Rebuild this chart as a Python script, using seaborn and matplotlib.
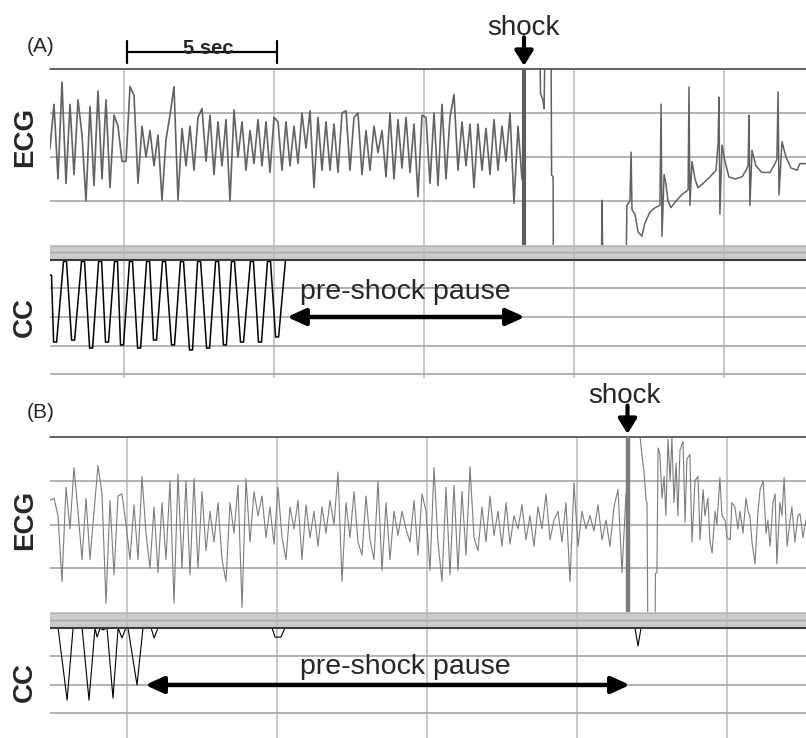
import numpy as np
import matplotlib
matplotlib.use("Agg")
import matplotlib.pyplot as plt
import seaborn as sns

sns.set_style("white")
plt.rcParams['font.family'] = ['Liberation Sans', 'DejaVu Sans']

# ---------------- data ----------------
FS = 7.5  # samples per second of the digitised pre-shock ECG strips

ecg_a_pre = [0.2, 1.2, -0.5, 1.7, -0.6, 1.2, -0.4, 1.3, 0.5, -1.0,
             1.15, -0.65, 1.5, -0.5, 1.3, -0.7, 0.95, 0.7, -0.1, -0.1,
             1.6, 1.4, -0.6, 0.7, 0.0, 0.6, -0.2, 0.5, -0.98, 0.4,
             0.95, 1.6, -0.98, 0.65, -0.2, 0.7, -0.3, 0.9, 1.1, -0.1,
             0.95, -0.4, 0.8, -0.2, 0.85, -1.0, 1.07, 0.0, 0.8, -0.3,
             0.6, -0.15, 0.85, -0.2, 0.8, -0.35, 0.9, 0.8, -0.3, 0.8,
             -0.2, 0.7, -0.15, 1.0, 0.2, 1.05, -0.7, 0.9, -0.3, 0.8,
             -0.3, 0.75, -0.35, 1.0, 1.05, -0.3, 0.9, 1.0, -0.4, 0.6,
             -0.3, 0.7, 0.1, 0.6, -0.45, 1.0, -0.5, 0.85, -0.25, 0.9,
             -0.35, 0.75, -0.9, 0.95, 0.9, -0.6, 1.0, -0.65, 1.2, -0.5,
             0.9, 1.42, -0.3, 0.8, -0.2, 0.75, -0.7, 0.75, -0.3, 0.65,
             -0.4, 0.85, -0.3, 0.7, -0.1, 1.0, -1.05, 0.7, -0.5]

ecg_a_post_t = [15.83, 16.33, 16.35, 16.40, 16.43, 16.47, 16.50, 16.70, 16.72, 16.77,
                16.78, 18.38, 18.40, 18.43, 19.20, 19.23, 19.33, 19.37, 19.40, 19.50,
                19.60, 19.73, 19.83, 20.00, 20.17, 20.33, 20.37, 20.40, 20.47, 20.53,
                20.60, 20.70, 20.87, 21.07, 21.27, 21.30, 21.33, 21.40, 21.50, 21.60,
                21.77, 22.00, 22.20, 22.27, 22.30, 22.33, 22.40, 22.50, 22.63, 22.83,
                23.07, 23.20, 23.27, 23.30, 23.33, 23.40, 23.53, 23.73, 24.00, 24.17,
                24.23, 24.27, 24.30, 24.40, 24.53, 24.70, 24.90, 25.00, 25.20]
ecg_a_post_v = [2.6, 2.6, 1.45, 1.35, 1.3, 1.1, 2.6, 2.6, -0.41, -0.45,
                -2.6, -2.6, -0.98, -2.6, -2.6, -1.1, -1.0, 0.11, -1.2, -1.3,
                -1.7, -1.8, -1.5, -1.25, -1.15, -1.1, 1.2, -1.8, -0.4, -0.6,
                -1.0, -1.15, -1.0, -0.85, -0.75, 1.59, -1.1, -0.1, -0.5, -0.7,
                -0.6, -0.45, -0.3, 0.3, 1.36, -1.3, 0.27, -0.1, -0.45, -0.5,
                -0.45, -0.3, -0.2, 0.95, -1.1, 0.15, -0.2, -0.35, -0.35, -0.15,
                -0.05, 1.48, -0.86, 0.35, 0.0, -0.25, -0.3, -0.15, -0.15]

cc_a_t = [0.00, 0.17, 0.50, 0.77, 1.10, 1.37, 1.67, 1.90, 2.20, 2.40,
          2.70, 2.97, 3.27, 3.50, 3.80, 4.10, 4.40, 4.70, 4.97, 5.27,
          5.57, 5.83, 6.10, 6.40, 6.73, 7.00, 7.30, 7.57, 7.90, 25.20]
cc_a_v = [-0.53, -2.88, -0.05, -2.81, -0.05, -3.09, -0.05, -2.88, -0.05, -2.98,
          -0.05, -3.09, -0.05, -2.81, -0.05, -2.98, -0.05, -3.16, -0.05, -3.09,
          -0.05, -2.98, -0.05, -2.88, -0.05, -2.88, -0.05, -2.70, 0.0, 0.0]

ecg_b_pre = [0.55, 0.6, 0.2, -1.3, 0.85, -0.1, 1.3, 0.3, -0.8, 0.6,
             -0.8, 0.3, 1.35, 0.7, -1.8, 0.55, -1.15, 0.65, 0.7, 0.0,
             -0.8, 0.45, -0.8, 1.1, -0.2, -1.0, 0.4, -1.1, 0.5, -0.8,
             1.0, -1.8, 1.15, -1.0, 1.0, -1.15, 1.05, -1.0, 0.75, -0.6,
             0.3, -0.4, 0.5, -0.8, -1.3, 0.5, -0.2, 0.9, -1.9, 1.05,
             -0.4, 0.75, 0.2, 0.65, -0.3, 0.4, -0.45, 0.85, -0.3, -0.8,
             0.4, -0.1, 0.55, -0.8, 0.45, -0.3, 0.3, -0.5, 0.4, -0.2,
             0.55, 0.0, 1.2, -1.3, 0.5, -0.3, 0.75, -0.4, -0.7, 0.65,
             -0.35, -0.8, 1.0, -1.05, 0.5, -0.8, 0.3, -0.25, 0.3, -0.1,
             -0.4, 0.55, -0.7, 0.7, 0.3, -1.05, 1.3, -0.4, -1.3, 0.85,
             -1.15, 0.9, -1.05, 0.75, -0.7, 1.32, -0.3, -0.6, 0.4, -0.4,
             0.65, -0.25, 0.3, -0.5, 0.5, -0.45, 0.2, -0.1, 0.45, -0.35,
             0.2, -0.5, 0.4, -0.1, 0.7, -0.35, 0.1, 0.3, -0.4, 0.5,
             -1.3, 0.95, -0.5, 0.3, -0.1, 0.2, -0.15, 0.45, -0.35, 0.1,
             -0.5, 0.4, 0.8, -1.1, 0.7]

ecg_b_post_t = [19.27, 19.63, 19.67, 19.73, 19.80, 19.87, 19.90, 19.93, 20.17, 20.18,
                20.23, 20.27, 20.33, 20.40, 20.47, 20.53, 20.60, 20.67, 20.73, 20.80,
                20.87, 20.93, 21.00, 21.10, 21.17, 21.23, 21.33, 21.40, 21.50, 21.60,
                21.67, 21.77, 21.83, 21.93, 22.00, 22.07, 22.17, 22.23, 22.33, 22.40,
                22.50, 22.57, 22.67, 22.73, 22.83, 22.93, 23.00, 23.10, 23.20, 23.27,
                23.33, 23.40, 23.50, 23.60, 23.67, 23.77, 23.87, 23.93, 24.00, 24.10,
                24.17, 24.23, 24.33, 24.40, 24.47, 24.57, 24.67, 24.73, 24.83, 24.93,
                25.00, 25.10, 25.20]
ecg_b_post_v = [2.6, 2.6, 2.0, 1.6, 1.2, 0.55, 0.5, -2.6, -2.6, -1.12,
                -1.1, 1.75, 1.6, 0.6, 1.1, 0.2, 1.95, 1.0, 1.98, 0.5,
                1.4, 0.2, 1.7, 1.9, 0.05, 1.5, 1.6, -0.4, 1.0, 1.1,
                -0.35, 0.8, 0.2, 0.6, -0.4, -0.65, 0.3, 0.0, 1.07, 0.2,
                0.1, -0.3, -0.35, 0.5, 0.4, -0.1, 0.3, -0.2, 0.6, 0.3,
                0.2, -0.4, -0.9, 0.3, 0.8, 1.0, -0.2, 0.1, -0.5, 0.5,
                0.7, -0.9, 0.5, 0.2, 1.07, -0.5, 0.1, 0.4, -0.4, 0.2,
                0.25, -0.3, 0.1]

cc_b_t = [0.00, 0.27, 0.57, 0.77, 1.07, 1.30, 1.50, 1.57, 1.67, 1.77,
          1.90, 2.10, 2.27, 2.40, 2.53, 2.60, 2.90, 3.10, 3.37, 3.47,
          3.60, 7.40, 7.50, 7.70, 7.83, 19.50, 19.60, 19.70, 25.20]
cc_b_v = [0.0, 0.0, -2.53, 0.0, 0.0, -2.53, 0.0, -0.32, 0.0, -0.07,
          0.0, -2.46, 0.0, -0.35, 0.0, 0.0, -2.0, 0.0, 0.0, -0.35,
          0.0, 0.0, -0.32, -0.32, 0.0, 0.0, -0.63, 0.0, 0.0]

shock_a = 15.80
shock_b = 19.25
pause_a = (7.90, 15.83)
pause_b = (3.17, 19.33)
scale_start, scale_len = 2.57, 5.0
grid_a = [2.45, 7.45, 12.45, 17.45, 22.45]
grid_b = [2.55, 7.55, 12.55, 17.55, 22.55]
T_END = 25.2

# ---------------- figure ----------------
W, H = 806, 738
fig = plt.figure(figsize=(W / 100, H / 100), dpi=100)


def add_ax(top, bottom):
    ax = fig.add_axes([50 / W, 1 - bottom / H, (W - 50) / W, (bottom - top) / H])
    ax.set_facecolor('none')
    return ax


def style(ax, ylim, yticks, xgrid):
    ax.set_xlim(0, T_END)
    ax.set_ylim(*ylim)
    ax.set_xticks(xgrid)
    ax.set_yticks(yticks)
    ax.tick_params(length=0, labelbottom=False, labelleft=False)
    ax.grid(True, axis='x', color='#bababa', lw=1.1)
    ax.grid(True, axis='y', color='#9e9e9e', lw=1.1)
    ax.set_axisbelow(True)
    sns.despine(ax=ax, left=True, bottom=True)
    ax.set_xlabel('')
    ax.set_ylabel('')


def band(ax, top):
    ax.axhspan(0.035, top, color='#cbcbcb', lw=0, zorder=0.2)
    ax.axhline(top - 0.02, color='#b3b3b3', lw=0.8, zorder=0.3)
    ax.axhline(0.27, color='#a6a6a6', lw=0.9, zorder=0.3)
    ax.axhline(0.0, color='#3c3c3c', lw=1.5, zorder=3)


def cc_trace(t, v, flat):
    """Compression trace: each reading is held for a short plateau."""
    xs, ys = [], []
    for ti, vi in zip(t, v):
        xs += [ti - flat, ti + flat]
        ys += [vi, vi]
    return xs, ys


def fx(px):
    return px / W


def fy(py):
    return 1 - py / H


ax_ea = add_ax(69, 245)
ax_ca = add_ax(245, 378)
ax_eb = add_ax(437, 612)
ax_cb = add_ax(612, 738)

# ---- Panel A ----
t_a = np.arange(len(ecg_a_pre)) / FS
sns.lineplot(x=t_a, y=ecg_a_pre, ax=ax_ea, color='#626262', lw=1.2,
             estimator=None, sort=False, legend=False)
sns.lineplot(x=ecg_a_post_t, y=ecg_a_post_v, ax=ax_ea, color='#626262', lw=1.1,
             estimator=None, sort=False, legend=False)
ax_ea.vlines(shock_a, -2, 2, color='#5e5e5e', lw=3.0, zorder=3)
style(ax_ea, (-2, 2), [-1, 0, 1], grid_a)
ax_ea.axhline(2, color='#555555', lw=1.3, clip_on=False, zorder=2)

xa, ya = cc_trace(cc_a_t, cc_a_v, 0.05)
sns.lineplot(x=xa, y=ya, ax=ax_ca, color='black', lw=1.1,
             estimator=None, sort=False, legend=False)
style(ax_ca, (-4.14, 0.526), [-1, -2, -3, -4], grid_a)
band(ax_ca, 0.526)

# scale bar
sb_y = 2.39
ax_ea.plot([scale_start, scale_start + scale_len], [sb_y, sb_y], color='black', lw=1.6, clip_on=False)
for xe in (scale_start, scale_start + scale_len):
    ax_ea.plot([xe, xe], [2.14, 2.64], color='black', lw=1.6, clip_on=False)
ax_ea.text(scale_start + scale_len / 2 + 0.2, sb_y - 0.06, '5 sec', ha='center', va='baseline',
           fontsize=14.5, fontweight='bold')

# shock A
ax_ea.annotate('', xy=(shock_a, 2.07), xytext=(shock_a, 2.72),
               arrowprops=dict(arrowstyle='-|>,head_length=0.9,head_width=0.55', color='black',
                               lw=3, shrinkA=0, shrinkB=0), annotation_clip=False)
ax_ea.text(shock_a - 0.03, 2.78, 'shock', ha='center', va='baseline', fontsize=20)

ax_ca.annotate('', xy=(pause_a[1], -2.0), xytext=(pause_a[0], -2.0),
               arrowprops=dict(arrowstyle='<|-|>,head_length=1.1,head_width=0.5', color='black',
                               lw=3.2, shrinkA=0, shrinkB=0), annotation_clip=False)
ax_ca.text(11.85, -1.36, 'pre-shock pause', ha='center', va='baseline', fontsize=20.5)

# ---- Panel B ----
t_b = np.arange(len(ecg_b_pre)) / FS
sns.lineplot(x=t_b, y=ecg_b_pre, ax=ax_eb, color='#7c7c7c', lw=0.8,
             estimator=None, sort=False, legend=False)
sns.lineplot(x=ecg_b_post_t, y=ecg_b_post_v, ax=ax_eb, color='#7c7c7c', lw=0.8,
             estimator=None, sort=False, legend=False)
ax_eb.vlines(shock_b, -2, 2, color='#7d7d7d', lw=3.2, zorder=3)
style(ax_eb, (-2, 2), [-1, 0, 1], grid_b)
ax_eb.axhline(2, color='#555555', lw=1.3, clip_on=False, zorder=2)

sns.lineplot(x=cc_b_t, y=cc_b_v, ax=ax_cb, color='black', lw=0.8,
             estimator=None, sort=False, legend=False)
style(ax_cb, (-3.86, 0.56), [-1, -2, -3], grid_b)
band(ax_cb, 0.56)

ax_eb.annotate('', xy=(shock_b, 2.07), xytext=(shock_b, 2.72),
               arrowprops=dict(arrowstyle='-|>,head_length=0.9,head_width=0.55', color='black',
                               lw=3, shrinkA=0, shrinkB=0), annotation_clip=False)
ax_eb.text(shock_b - 0.1, 2.78, 'shock', ha='center', va='baseline', fontsize=20)

ax_cb.annotate('', xy=(pause_b[1], -2.0), xytext=(pause_b[0], -2.0),
               arrowprops=dict(arrowstyle='<|-|>,head_length=1.1,head_width=0.5', color='black',
                               lw=3.2, shrinkA=0, shrinkB=0), annotation_clip=False)
ax_cb.text(11.85, -1.62, 'pre-shock pause', ha='center', va='baseline', fontsize=20.5)

# ---- labels ----
fig.text(fx(41), fy(46), '(A)', ha='center', va='center', fontsize=15)
fig.text(fx(41), fy(412), '(B)', ha='center', va='center', fontsize=15)
for lab, y in (('ECG', 137), ('CC', 317), ('ECG', 520), ('CC', 682)):
    fig.text(fx(25), fy(y), lab, ha='center', va='center', rotation=90,
             fontsize=20, fontweight='bold')

fig.savefig('out.png', dpi=100)
